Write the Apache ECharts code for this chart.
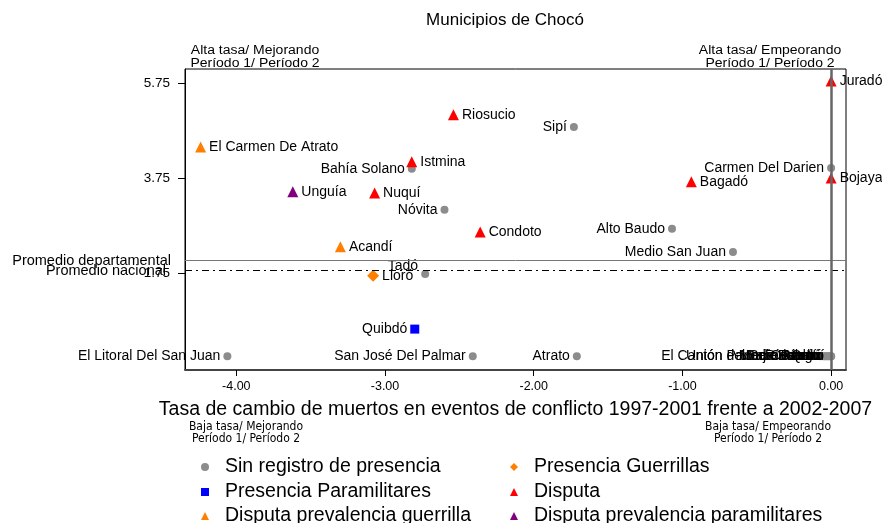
<!DOCTYPE html>
<html>
<head>
<meta charset="utf-8">
<title>Municipios de Chocó</title>
<script src="https://cdn.jsdelivr.net/npm/echarts@6/dist/echarts.min.js"></script>
<style>
	html, body { margin: 0; padding: 0; background: #fff; }
	#main { width: 882px; height: 523px; }
</style>
</head>
<body>
<div id="main"></div>
<script>
// [nombre, tasa de cambio (x), eje y]
var sinRegistro = [
	['Sipí', -1.73, 4.82],
	['Bahía Solano', -2.82, 3.94],
	['Carmen Del Darien', 0, 3.96],
	['Nóvita', -2.60, 3.08],
	['Alto Baudo', -1.07, 2.68],
	['Medio San Juan', -0.66, 2.19],
	['Tadó', -2.73, 1.73],
	['El Litoral Del San Juan', -4.06, 0],
	['San José Del Palmar', -2.41, 0],
	['Atrato', -1.71, 0],
	['El Cantón del San Pablo', -0.07, 0],
	['Unión Panamericana', -0.05, 0],
	['Bajo Baudó', -0.04, 0],
	['Medio Atrato', -0.03, 0],
	['Medio Baudó', -0.02, 0],
	['Río Iró', -0.01, 0],
	['Río Quito', 0, 0],
	['Certeguí', 0, 0]
]
var presenciaGuerrillas = [
	['Lloró', -3.08, 1.69]
]
var presenciaParamilitares = [
	['Quibdó', -2.80, 0.57]
]
var disputa = [
	['Juradó', 0, 5.79],
	['Riosucio', -2.54, 5.08],
	['Istmina', -2.82, 4.09],
	['Bojaya', 0, 3.75],
	['Bagadó', -0.94, 3.67],
	['Nuquí', -3.07, 3.43],
	['Condoto', -2.36, 2.61]
]
var disputaGuerrilla = [
	['El Carmen De Atrato', -4.24, 4.40],
	['Acandí', -3.30, 2.30]
]
var disputaParamilitares = [
	['Unguía', -3.62, 3.46]
]
var xTicks = [-4, -3, -2, -1, 0]
var yTicks = [1.75, 3.75, 5.75]
var promedioDepartamental = 2.01
var promedioNacional = 1.80

window.onload = function () {
	var font = 'Liberation Sans, Arial, sans-serif'
	var narrow = 'Liberation Sans Narrow, DejaVu Sans Condensed, Arial Narrow, sans-serif'

	// etiquetas que no van a la derecha/izquierda por defecto
	var labelTweaks = {
		'Tadó': { position: 'left', offset: [0, -8] }
	}

	function toData(arr) {
		return arr.map(function (d) {
			var item = { name: d[0], value: [d[1], d[2]] }
			if (labelTweaks[d[0]]) item.label = labelTweaks[d[0]]
			return item
		})
	}

	function makeSeries(name, arr, symbol, size, color, labelPos) {
		return {
			name: name,
			type: 'scatter',
			symbol: symbol,
			symbolSize: size,
			itemStyle: { color: color, opacity: 1 },
			label: {
				show: true,
				position: labelPos,
				distance: 3,
				formatter: '{b}',
				color: '#000',
				fontSize: 14,
				fontFamily: font
			},
			emphasis: { disabled: true },
			data: toData(arr)
		}
	}

	// una leyenda por elemento para fijar la rejilla 2x3
	var legendItems = [
		['Sin registro de presencia', 201, 457],
		['Presencia Paramilitares', 201, 482],
		['Disputa prevalencia guerrilla', 201, 506],
		['Presencia Guerrillas', 510, 457],
		['Disputa', 510, 482],
		['Disputa prevalencia paramilitares', 510, 506]
	]
	var legends = legendItems.map(function (l) {
		return {
			data: [l[0]],
			left: l[1],
			top: l[2],
			padding: 0,
			itemWidth: 8,
			itemHeight: 8,
			selectedMode: false,
			textStyle: { fontSize: 19.5, color: '#000', fontFamily: font, padding: [0, 0, 0, 11] }
		}
	})

	function cornerText(x, y, text, fam, size, lh, sx) {
		return {
			type: 'text', x: x, y: y, scaleX: sx,
			style: { text: text, fontSize: size, lineHeight: lh, fontFamily: fam, fill: '#000', align: 'center', verticalAlign: 'middle' }
		}
	}

	var options = {
		animation: false,
		grid: {
			left: 185,
			right: 36,
			top: 69,
			bottom: 153,
			show: true,
			borderColor: '#000',
			borderWidth: 1
		},
		graphic: [
			{ type: 'text', x: 505, y: 20, style: { text: 'Municipios de Chocó', fontSize: 17, fontFamily: font, fill: '#000', align: 'center', verticalAlign: 'middle' } },
			cornerText(255, 57, 'Alta tasa/ Mejorando\nPeríodo 1/ Período 2', font, 12.5, 12.5, 1.12),
			cornerText(770, 57, 'Alta tasa/ Empeorando\nPeríodo 1/ Período 2', font, 12.5, 12.5, 1.12),
			cornerText(246, 433, 'Baja tasa/ Mejorando\nPeríodo 1/ Período 2', narrow, 12, 12, 1),
			cornerText(768, 433, 'Baja tasa/ Empeorando\nPeríodo 1/ Período 2', narrow, 12, 12, 1)
		],
		legend: legends,
		xAxis: {
			type: 'value',
			min: -4.345,
			max: 0.1,
			name: 'Tasa de cambio de muertos en eventos de conflicto 1997-2001 frente a 2002-2007',
			nameLocation: 'middle',
			nameGap: 30,
			nameTextStyle: { fontSize: 19.5, color: '#000', fontFamily: font },
			axisLine: { onZero: false, lineStyle: { color: '#444', width: 2 } },
			axisTick: { show: true, length: 6, customValues: xTicks, lineStyle: { color: '#000' } },
			axisLabel: {
				customValues: xTicks,
				margin: 10,
				fontSize: 12.5,
				color: '#000',
				fontFamily: font,
				formatter: function (v) { return v.toFixed(2) }
			},
			splitLine: { show: false }
		},
		yAxis: {
			type: 'value',
			min: -0.29,
			max: 6.04,
			axisLine: { show: true, onZero: false, lineStyle: { color: '#000', width: 1 } },
			axisTick: { show: true, length: 7, customValues: yTicks, lineStyle: { color: '#000' } },
			axisLabel: {
				customValues: yTicks,
				margin: 15,
				fontSize: 13.5,
				color: '#000',
				fontFamily: font,
				formatter: function (v) { return v.toFixed(2) }
			},
			splitLine: { show: false }
		},
		series: [
			{
				name: 'referencias',
				type: 'scatter',
				data: [],
				markLine: {
					silent: true,
					symbol: ['none', 'none'],
					animation: false,
					label: { show: false },
					emphasis: { disabled: true },
					data: [
						{
							yAxis: promedioDepartamental,
							lineStyle: { color: '#777', width: 1, type: 'solid' },
							label: { show: true, position: 'start', distance: 14, formatter: 'Promedio departamental', fontSize: 14.5, color: '#000', fontFamily: font }
						},
						{
							yAxis: promedioNacional,
							lineStyle: { color: '#000', width: 1, type: [7, 4, 2, 4] },
							label: { show: true, position: 'start', distance: 19, formatter: 'Promedio nacional', fontSize: 14.5, color: '#000', fontFamily: font }
						},
						{
							xAxis: 0,
							lineStyle: { color: '#666', width: 2.5, type: 'solid' }
						}
					]
				}
			},
			makeSeries('Sin registro de presencia', sinRegistro, 'circle', 8, '#8c8c8c', 'left'),
			makeSeries('Presencia Guerrillas', presenciaGuerrillas, 'diamond', 12, '#ff8000', 'right'),
			makeSeries('Presencia Paramilitares', presenciaParamilitares, 'rect', 9, '#0000ff', 'left'),
			makeSeries('Disputa', disputa, 'triangle', 11, '#ff0000', 'right'),
			makeSeries('Disputa prevalencia guerrilla', disputaGuerrilla, 'triangle', 11, '#ff8000', 'right'),
			makeSeries('Disputa prevalencia paramilitares', disputaParamilitares, 'triangle', 11, '#800080', 'right')
		]
	}

	var myChart = echarts.init(document.getElementById('main'))
	myChart.setOption(options)
}
</script>
</body>
</html>
